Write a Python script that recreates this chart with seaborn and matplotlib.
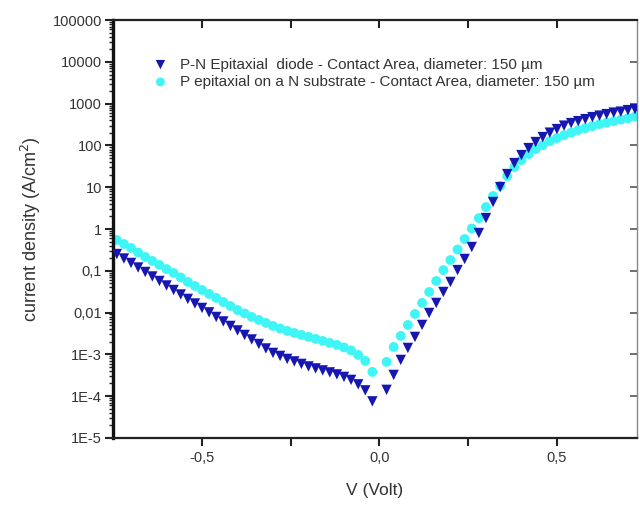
import numpy as np
import pandas as pd
import matplotlib
matplotlib.use("Agg")
import matplotlib.pyplot as plt
import seaborn as sns
from matplotlib.ticker import FixedLocator, LogLocator, NullFormatter

# ---------------- data ----------------
v_neg = [-0.74, -0.72, -0.70, -0.68, -0.66, -0.64, -0.62, -0.60, -0.58, -0.56,
         -0.54, -0.52, -0.50, -0.48, -0.46, -0.44, -0.42, -0.40, -0.38, -0.36,
         -0.34, -0.32, -0.30, -0.28, -0.26, -0.24, -0.22, -0.20, -0.18, -0.16,
         -0.14, -0.12, -0.10, -0.08, -0.06, -0.04, -0.02]
v_pos = [0.02, 0.04, 0.06, 0.08, 0.10, 0.12, 0.14, 0.16, 0.18, 0.20,
         0.22, 0.24, 0.26, 0.28, 0.30, 0.32, 0.34, 0.36, 0.38, 0.40,
         0.42, 0.44, 0.46, 0.48, 0.50, 0.52, 0.54, 0.56, 0.58, 0.60,
         0.62, 0.64, 0.66, 0.68, 0.70, 0.72]

pn_neg = [0.252, 0.197, 0.154, 0.120, 0.0936, 0.0731, 0.0570, 0.0445, 0.0347, 0.0271,
          0.0212, 0.0165, 0.0129, 0.0101, 0.00785, 0.00612, 0.00478, 0.00373, 0.00291, 0.00227,
          0.00177, 0.00138, 0.00108, 0.000915, 0.000776, 0.000676, 0.000589, 0.000513, 0.000460, 0.000412,
          0.000369, 0.000330, 0.000288, 0.000244, 0.000191, 0.000137, 0.0000747]
pn_pos = [0.000141, 0.000321, 0.000734, 0.00142, 0.00261, 0.00505, 0.00978, 0.0170, 0.0311, 0.0540,
          0.104, 0.192, 0.371, 0.802, 1.83, 4.43, 10.1, 20.7, 37.9, 58.9,
          86.7, 121, 159, 203, 247, 299, 344, 383, 428, 478,
          519, 564, 613, 647, 703, 743]

sub_neg = [0.546, 0.438, 0.351, 0.274, 0.214, 0.172, 0.138, 0.110, 0.0886, 0.0691,
           0.0540, 0.0433, 0.0347, 0.0279, 0.0224, 0.0179, 0.0144, 0.0115, 0.00952, 0.00785,
           0.00665, 0.00564, 0.00478, 0.00416, 0.00363, 0.00325, 0.00291, 0.00261, 0.00234, 0.00209,
           0.00187, 0.00168, 0.00146, 0.00124, 0.000967, 0.000695, 0.000379]
sub_pos = [0.000658, 0.00150, 0.00276, 0.00505, 0.00926, 0.0170, 0.0311, 0.0570, 0.104, 0.181,
           0.323, 0.576, 1.03, 1.83, 3.36, 6.16, 10.7, 18.5, 30.4, 44.8,
           62.3, 82.0, 102, 127, 150, 177, 203, 234, 261, 291,
           325, 353, 383, 417, 452, 491]

label_pn = "P-N Epitaxial  diode - Contact Area, diameter: 150 \u00b5m"
label_sub = "P epitaxial on a N substrate - Contact Area, diameter: 150 \u00b5m"

x_ticks = [-0.5, 0.0, 0.5]
x_tick_labels = ["-0,5", "0,0", "0,5"]
y_ticks = [1e-5, 1e-4, 1e-3, 1e-2, 1e-1, 1, 10, 100, 1000, 10000, 100000]
y_tick_labels = ["1E-5", "1E-4", "1E-3", "0,01", "0,1", "1", "10", "100", "1000", "10000", "100000"]

df_pn = pd.DataFrame({"V": v_neg + v_pos, "J": pn_neg + pn_pos})
df_sub = pd.DataFrame({"V": v_neg + v_pos, "J": sub_neg + sub_pos})

# ---------------- style ----------------
sns.set_style("ticks")
plt.rcParams["font.family"] = ["Liberation Sans", "DejaVu Sans"]

fig = plt.figure(figsize=(6.4, 5.05), dpi=100)
ax = fig.add_axes([0.177, 0.133, 0.818, 0.827])

blue = "#1616b0"
cyan = "#3ff5f5"

sns.scatterplot(data=df_sub, x="V", y="J", ax=ax, color=cyan, marker="o",
                s=50, edgecolor="none", label=label_sub, zorder=2)
sns.scatterplot(data=df_pn, x="V", y="J", ax=ax, color=blue, marker="v",
                s=56, edgecolor="none", label=label_pn, zorder=3)

ax.set_yscale("log")
ax.set_xlim(-0.75, 0.725)
ax.set_ylim(1e-5, 1e5)

ax.xaxis.set_major_locator(FixedLocator(x_ticks))
ax.set_xticklabels(x_tick_labels)
ax.xaxis.set_minor_locator(FixedLocator([-0.25, 0.25]))
ax.yaxis.set_major_locator(FixedLocator(y_ticks))
ax.set_yticklabels(y_tick_labels)
ax.yaxis.set_minor_locator(LogLocator(base=10, subs=np.arange(2, 10) * 1.0, numticks=100))
ax.yaxis.set_minor_formatter(NullFormatter())

ax.tick_params(axis="both", which="major", direction="out", length=6, width=1.5,
               labelsize=10.5, colors="#222222", labelcolor="#333333")
ax.tick_params(axis="y", which="major", pad=2)
ax.tick_params(axis="x", which="minor", direction="out", length=6, width=1.5, colors="#222222")
ax.tick_params(axis="y", which="minor", direction="out", length=3, width=1.0, colors="#222222")

ax.spines["left"].set_linewidth(2.4)
for side in ["bottom", "top"]:
    ax.spines[side].set_linewidth(1.6)
ax.spines["right"].set_linewidth(1.0)
ax.spines["right"].set_color("#888888")
for s in ax.spines.values():
    s.set_visible(True)
ax.spines["left"].set_color("#111111")
ax.spines["top"].set_color("#222222")
ax.spines["bottom"].set_color("#222222")

# top and right inward ticks
top = ax.secondary_xaxis("top")
top.xaxis.set_major_locator(FixedLocator(x_ticks))
top.xaxis.set_minor_locator(FixedLocator([-0.25, 0.25]))
top.tick_params(which="both", direction="in", length=6, width=1.5, labeltop=False, colors="#222222")
top.spines["top"].set_visible(False)
right = ax.secondary_yaxis("right")
right.set_yscale("log")
right.yaxis.set_major_locator(FixedLocator(y_ticks))
right.yaxis.set_minor_locator(FixedLocator([]))
right.tick_params(which="both", direction="in", length=5, width=1.2, labelright=False, colors="#555555")
right.spines["right"].set_visible(False)

ax.set_xlabel("V (Volt)", fontsize=12.5, color="#333333", labelpad=13)
ax.set_ylabel("current density (A/cm$^2$)", fontsize=13, color="#333333", labelpad=7)

h, l = ax.get_legend_handles_labels()
order = [l.index(label_pn), l.index(label_sub)]
ax.legend([h[i] for i in order], [l[i] for i in order], loc="upper left",
          bbox_to_anchor=(0.055, 0.925), frameon=False, fontsize=11,
          handletextpad=0.5, labelspacing=0.22, borderaxespad=0.0,
          handlelength=1.6, markerscale=0.9, labelcolor="#333333")

fig.savefig("out.png", dpi=100, facecolor="white")
